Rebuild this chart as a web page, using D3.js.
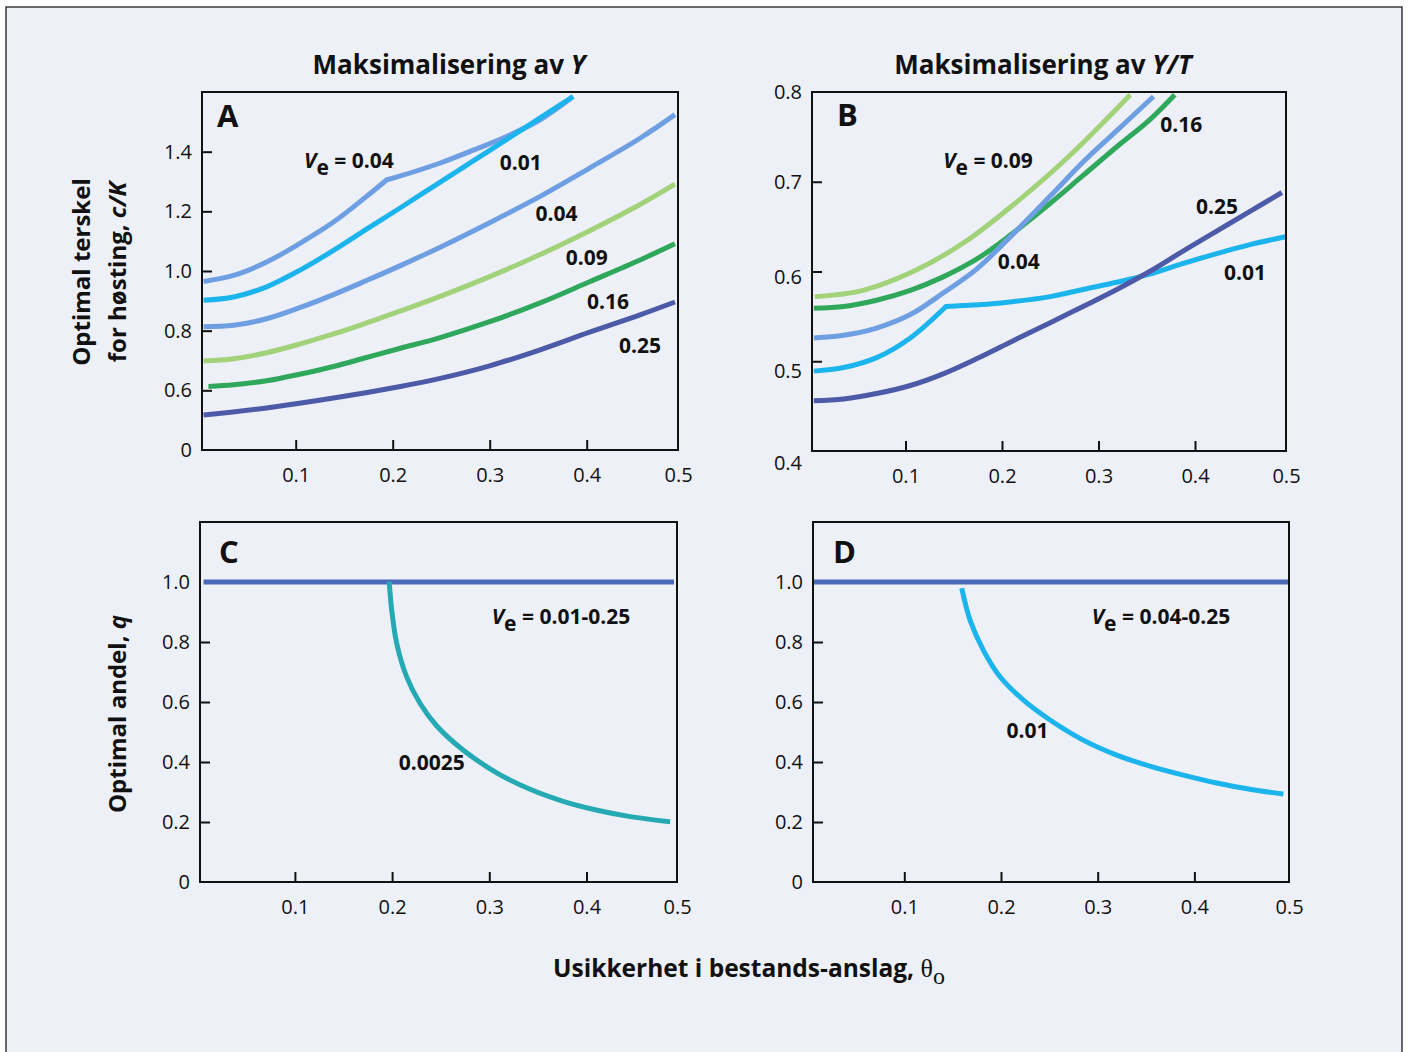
<!DOCTYPE html>
<html>
<head>
<meta charset="utf-8">
<script src="https://cdn.jsdelivr.net/npm/d3@7"></script>
<style>
  body { margin: 0; background: #fff; }
  svg { display: block; }
  text { font-family: "Open Sans", "Noto Sans", sans-serif; fill: #111; }
</style>
</head>
<body>
<svg id="chart" width="1408" height="1052"></svg>
<script>
// ---- data (theta = usikkerhet, value = c/K or q) ----
const xTickValues = [0.1, 0.2, 0.3, 0.4, 0.5];
const yTicksA = [0.4, 0.6, 0.8, 1.0, 1.2, 1.4];
const yTicksB = [0.4, 0.5, 0.6, 0.7, 0.8];
const yTicksCD = [0, 0.2, 0.4, 0.6, 0.8, 1.0];

// Panel A: maksimalisering av Y  (upper 0.04 curve has a kink at index 6)
const thetaA004hi = [0.005, 0.036, 0.070, 0.104, 0.139, 0.173, 0.194, 0.201, 0.249, 0.283, 0.318, 0.352, 0.386];
const valA004hi   = [0.965, 0.985, 1.030, 1.092, 1.164, 1.250, 1.306, 1.312, 1.362, 1.405, 1.452, 1.507, 1.585];
const thetaA001 = [0.005, 0.036, 0.070, 0.104, 0.139, 0.173, 0.208, 0.249, 0.283, 0.318, 0.352, 0.386];
const valA001   = [0.902, 0.913, 0.947, 1.002, 1.069, 1.140, 1.212, 1.298, 1.369, 1.442, 1.513, 1.585];
const thetaA004 = [0.005, 0.036, 0.070, 0.104, 0.139, 0.173, 0.208, 0.249, 0.300, 0.352, 0.403, 0.455, 0.491];
const valA004   = [0.813, 0.818, 0.840, 0.877, 0.921, 0.968, 1.018, 1.080, 1.162, 1.250, 1.345, 1.445, 1.524];
const thetaA009 = [0.005, 0.036, 0.070, 0.104, 0.139, 0.173, 0.208, 0.249, 0.300, 0.352, 0.403, 0.455, 0.491];
const valA009   = [0.698, 0.706, 0.726, 0.755, 0.789, 0.826, 0.866, 0.915, 0.981, 1.055, 1.135, 1.223, 1.291];
const thetaA016 = [0.010, 0.036, 0.070, 0.104, 0.139, 0.173, 0.208, 0.249, 0.300, 0.352, 0.403, 0.455, 0.491];
const valA016   = [0.613, 0.619, 0.632, 0.654, 0.680, 0.710, 0.741, 0.777, 0.830, 0.893, 0.964, 1.037, 1.091];
const thetaA025 = [0.005, 0.070, 0.139, 0.208, 0.249, 0.300, 0.352, 0.403, 0.455, 0.491];
const valA025   = [0.517, 0.541, 0.574, 0.613, 0.640, 0.682, 0.736, 0.795, 0.853, 0.896];

// Panel B: maksimalisering av Y/T  (0.01 curve has a kink at index 4)
const thetaB009 = [0.006, 0.056, 0.110, 0.163, 0.217, 0.270, 0.333];
const valB009   = [0.572, 0.579, 0.601, 0.634, 0.679, 0.729, 0.797];
const thetaB016 = [0.005, 0.036, 0.070, 0.105, 0.139, 0.174, 0.208, 0.250, 0.284, 0.319, 0.353, 0.379];
const valB016   = [0.559, 0.561, 0.568, 0.579, 0.594, 0.614, 0.640, 0.676, 0.707, 0.739, 0.769, 0.797];
const thetaB004 = [0.005, 0.036, 0.070, 0.105, 0.139, 0.174, 0.208, 0.250, 0.284, 0.319, 0.357];
const valB004   = [0.526, 0.529, 0.537, 0.552, 0.576, 0.603, 0.638, 0.684, 0.722, 0.757, 0.795];
const thetaB001 = [0.005, 0.036, 0.070, 0.105, 0.142, 0.160, 0.199, 0.250, 0.284, 0.319, 0.353, 0.388, 0.4225, 0.457, 0.495];
const valB001   = [0.489, 0.493, 0.504, 0.526, 0.561, 0.562, 0.565, 0.572, 0.580, 0.588, 0.597, 0.609, 0.620, 0.630, 0.639];
const thetaB025 = [0.005, 0.036, 0.070, 0.105, 0.139, 0.174, 0.208, 0.250, 0.284, 0.319, 0.353, 0.388, 0.4225, 0.457, 0.490];
const valB025   = [0.456, 0.458, 0.464, 0.473, 0.486, 0.503, 0.521, 0.543, 0.561, 0.580, 0.600, 0.623, 0.645, 0.667, 0.688];

// Panel C and D: optimal andel q
const thetaCall = [0.006, 0.490];
const valCall   = [1.0, 1.0];
const thetaC0025 = [0.197, 0.1996, 0.2047, 0.215, 0.2287, 0.246, 0.273, 0.3076, 0.342, 0.376, 0.410, 0.445, 0.486];
const valC0025   = [1.001, 0.907, 0.796, 0.684, 0.596, 0.520, 0.440, 0.364, 0.309, 0.269, 0.240, 0.218, 0.201];
const thetaDall = [0.006, 0.497];
const valDall   = [1.0, 1.0];
const thetaD001 = [0.1594, 0.168, 0.1817, 0.199, 0.223, 0.2507, 0.285, 0.3197, 0.354, 0.3885, 0.423, 0.4575, 0.492];
const valD001   = [0.979, 0.873, 0.773, 0.684, 0.607, 0.540, 0.473, 0.423, 0.386, 0.356, 0.330, 0.309, 0.293];

const col = {
  v001: '#1cb4ec', v004: '#6e9fe2', v009: '#a2d27a', v016: '#2fa85c',
  v025: '#4d5aa8', all: '#4a69b9', v0025: '#25aab3'
};

const svg = d3.select('#chart');

// page background with scanned frame
svg.append('rect')
  .attr('x', 6).attr('y', 7).attr('width', 1396).attr('height', 1060)
  .attr('fill', '#eef0f7').attr('stroke', '#3a3a3a').attr('stroke-width', 1.5);

const fmt1 = d3.format('.1f');

const panels = [
  { letter: 'A', left: 202, top: 92, w: 476, h: 358, xRange: [-3.3, 481.7], yDomain: [0.4, 1.6],
    yTicks: yTicksA, yFormat: d => d === 0.4 ? '0' : fmt1(d), noTickLine: [0.4],
    labelShift: () => 0, letterPos: [15, 35],
    series: [
      [thetaA004hi, valA004hi, col.v004, 6], [thetaA001, valA001, col.v001], [thetaA004, valA004, col.v004],
      [thetaA009, valA009, col.v009], [thetaA016, valA016, col.v016], [thetaA025, valA025, col.v025]
    ],
    notes: [
      { ve: true, text: ' = 0.04', t: 0.1086, v: 1.344 },
      { text: '0.01', t: 0.332, v: 1.338 }, { text: '0.04', t: 0.369, v: 1.169 },
      { text: '0.09', t: 0.400, v: 1.019 }, { text: '0.16', t: 0.422, v: 0.874 },
      { text: '0.25', t: 0.455, v: 0.724 }
    ] },
  { letter: 'B', left: 812, top: 92, w: 474, h: 359, xRange: [-3, 479.5], yDomain: [0.4, 0.8],
    yTicks: yTicksB, yFormat: fmt1, noTickLine: [0.4, 0.8],
    // the printed labels drift downward a little towards the bottom of this axis
    labelShift: d => d < 0.45 ? 12 : d < 0.55 ? 10 : d < 0.65 ? 6 : 0,
    letterPos: [25, 34],
    series: [
      [thetaB009, valB009, col.v009], [thetaB016, valB016, col.v016], [thetaB004, valB004, col.v004],
      [thetaB001, valB001, col.v001, 4], [thetaB025, valB025, col.v025]
    ],
    notes: [
      { ve: true, text: ' = 0.09', t: 0.139, v: 0.715 },
      { text: '0.04', t: 0.2174, v: 0.603 }, { text: '0.16', t: 0.3857, v: 0.755 },
      { text: '0.25', t: 0.4228, v: 0.664 }, { text: '0.01', t: 0.4518, v: 0.591 }
    ] },
  { letter: 'C', left: 200, top: 522, w: 477, h: 360, xRange: [-2.3, 483.7], yDomain: [0, 1.2],
    yTicks: yTicksCD, yFormat: d => d === 0 ? '0' : fmt1(d), noTickLine: [0, 1.0],
    labelShift: () => 0, letterPos: [19, 41],
    series: [[thetaCall, valCall, col.all], [thetaC0025, valC0025, col.v0025]],
    notes: [
      { ve: true, text: ' = 0.01-0.25', t: 0.3025, v: 0.859 },
      { text: '0.0025', t: 0.2407, v: 0.373 }
    ] },
  { letter: 'D', left: 813, top: 522, w: 476, h: 360, xRange: [-5.4, 478.1], yDomain: [0, 1.2],
    yTicks: yTicksCD, yFormat: d => d === 0 ? '0' : fmt1(d), noTickLine: [0, 1.0],
    labelShift: () => 0, letterPos: [20, 41],
    series: [[thetaDall, valDall, col.all], [thetaD001, valD001, col.v001]],
    notes: [
      { ve: true, text: ' = 0.04-0.25', t: 0.2938, v: 0.859 },
      { text: '0.01', t: 0.2274, v: 0.479 }
    ] }
];

panels.forEach(p => {
  const g = svg.append('g').attr('transform', `translate(${p.left},${p.top})`);
  const x = d3.scaleLinear().domain([0, 0.5]).range(p.xRange);
  const y = d3.scaleLinear().domain(p.yDomain).range([p.h, 0]);

  const line = d3.line()
    .x(d => x(d[0]))
    .y(d => y(d[1]))
    .curve(d3.curveCatmullRom.alpha(0.5));

  p.series.forEach(([th, vals, c, kink]) => {
    const pts = th.map((t, i) => [t, vals[i]]);
    // kinked curves: two smooth pieces joined with a sharp corner in one path
    const d = kink == null
      ? line(pts)
      : line(pts.slice(0, kink + 1)) + line(pts.slice(kink)).replace(/^M/, 'L');
    g.append('path')
      .attr('fill', 'none')
      .attr('stroke', c)
      .attr('stroke-width', 5)
      .attr('stroke-linejoin', 'miter')
      .attr('d', d);
  });

  // frame
  g.append('rect')
    .attr('width', p.w).attr('height', p.h)
    .attr('fill', 'none').attr('stroke', '#111').attr('stroke-width', 2);

  const xa = g.append('g')
    .attr('transform', `translate(0,${p.h})`)
    .call(d3.axisBottom(x).tickValues(xTickValues).tickSizeInner(-10).tickSizeOuter(0)
      .tickPadding(18).tickFormat(fmt1));
  xa.select('.domain').remove();
  const edgeTick = xa.selectAll('.tick').filter(d => d >= 0.5);
  edgeTick.select('line').remove();
  // the 0.5 label sits under the right edge of the frame
  edgeTick.select('text').attr('x', p.w - x(0.5));

  const ya = g.append('g')
    .call(d3.axisLeft(y).tickValues(p.yTicks).tickSizeInner(-10).tickSizeOuter(0)
      .tickPadding(10).tickFormat(p.yFormat));
  ya.select('.domain').remove();
  ya.selectAll('.tick').filter(d => p.noTickLine.includes(d)).select('line').remove();
  ya.selectAll('.tick text').attr('y', d => p.labelShift(d));

  g.selectAll('.tick line').attr('stroke', '#111').attr('stroke-width', 2);
  g.selectAll('.tick text')
    .attr('fill', '#111')
    .style('font-size', '20px')
    .style('font-family', '"Open Sans", "Noto Sans", sans-serif');

  // panel letter
  g.append('text')
    .attr('x', p.letterPos[0]).attr('y', p.letterPos[1])
    .style('font-size', '31px').style('font-weight', 700)
    .text(p.letter);

  // curve labels
  p.notes.forEach(n => {
    const t = g.append('text')
      .attr('x', x(n.t)).attr('y', y(n.v))
      .style('font-size', '21px').style('font-weight', 700);
    if (n.ve) {
      t.attr('text-anchor', 'start');
      t.append('tspan').style('font-style', 'italic').text('V');
      t.append('tspan').attr('dy', 7).text('e');
      t.append('tspan').attr('dy', -7).text(n.text);
    } else {
      t.attr('text-anchor', 'middle').text(n.text);
    }
  });
});

// column titles
function title(cx, parts) {
  const t = svg.append('text')
    .attr('x', cx).attr('y', 74)
    .attr('text-anchor', 'middle')
    .style('font-size', '26px').style('font-weight', 700);
  parts.forEach(([s, it]) => t.append('tspan').style('font-style', it ? 'italic' : 'normal').text(s));
}
title(449, [['Maksimalisering av ', false], ['Y', true]]);
title(1043, [['Maksimalisering av ', false], ['Y/T', true]]);

// y axis titles
function yTitle(bx, cy, parts) {
  const t = svg.append('text')
    .attr('transform', `translate(${bx},${cy}) rotate(-90)`)
    .attr('text-anchor', 'middle')
    .style('font-size', '24px').style('font-weight', 700);
  parts.forEach(([s, it]) => t.append('tspan').style('font-style', it ? 'italic' : 'normal').text(s));
}
yTitle(90, 272, [['Optimal terskel', false]]);
yTitle(126, 272, [['for høsting, ', false], ['c/K', true]]);
yTitle(126, 714, [['Optimal andel, ', false], ['q', true]]);

// x axis title
const xt = svg.append('text')
  .attr('x', 749).attr('y', 977)
  .attr('text-anchor', 'middle')
  .style('font-size', '24.5px').style('font-weight', 700);
xt.append('tspan').text('Usikkerhet i bestands-anslag, ');
xt.append('tspan')
  .style('font-family', '"Liberation Serif", "DejaVu Serif", serif')
  .style('font-weight', 400).style('font-size', '26px')
  .text('θ');
xt.append('tspan')
  .attr('dy', 7)
  .style('font-family', '"Liberation Serif", "DejaVu Serif", serif')
  .style('font-weight', 400).style('font-size', '24px')
  .text('o');
</script>
</body>
</html>
